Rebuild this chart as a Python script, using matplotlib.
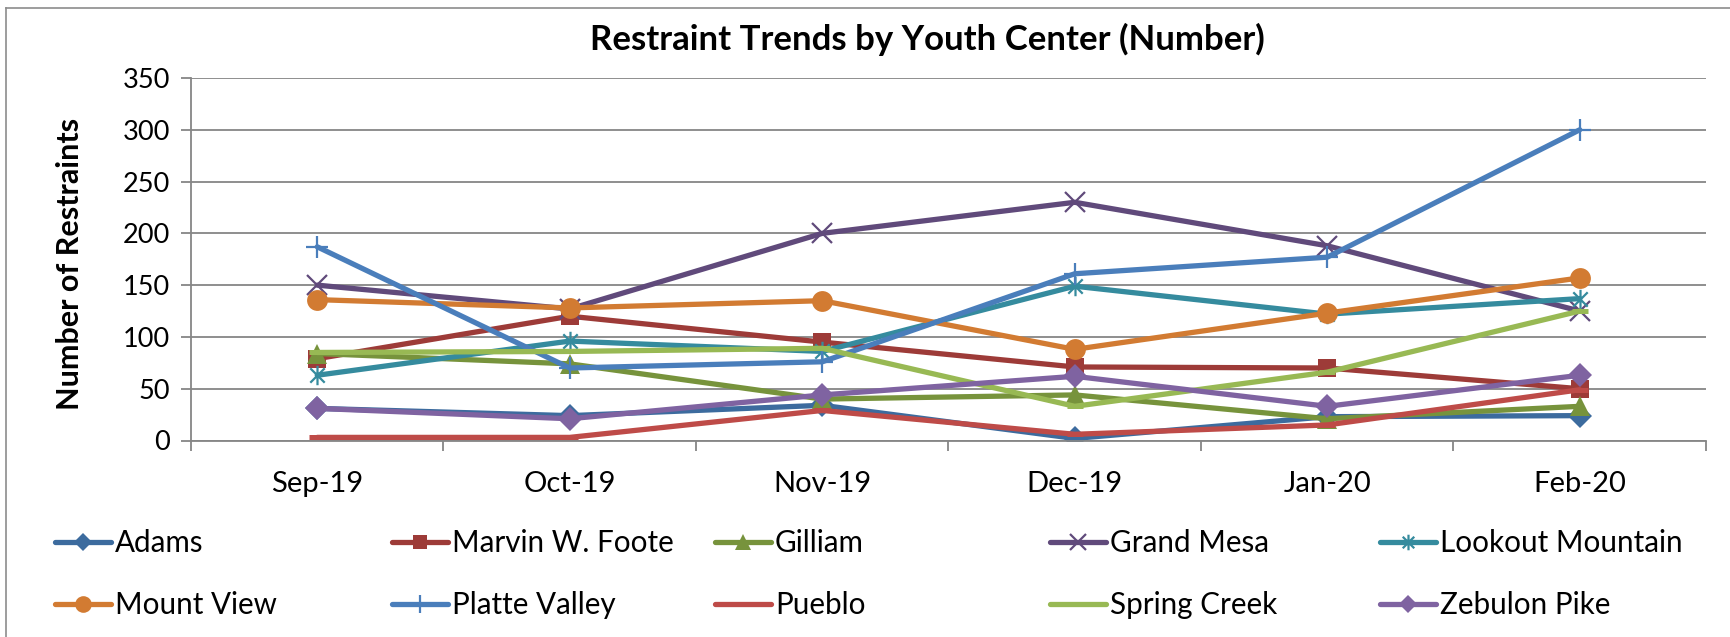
import matplotlib
matplotlib.use("Agg")
import matplotlib.pyplot as plt
from matplotlib.path import Path
from matplotlib.lines import Line2D
import numpy as np

categories = ["Sep-19", "Oct-19", "Nov-19", "Dec-19", "Jan-20", "Feb-20"]

adams = [31, 24, 34, 2, 23, 24]
marvin_w_foote = [79, 120, 95, 71, 70, 50]
gilliam = [84, 74, 40, 44, 21, 33]
grand_mesa = [150, 127, 200, 230, 188, 125]
lookout_mountain = [63, 96, 86, 149, 122, 137]
mount_view = [136, 128, 135, 88, 123, 157]
platte_valley = [187, 70, 76, 161, 177, 300]
pueblo = [3, 3, 29, 6, 15, 49]
spring_creek = [85, 86, 89, 33, 66, 125]
zebulon_pike = [31, 21, 44, 62, 33, 63]

series_names = ["Adams", "Marvin W. Foote", "Gilliam", "Grand Mesa", "Lookout Mountain",
                "Mount View", "Platte Valley", "Pueblo", "Spring Creek", "Zebulon Pike"]
series_values = [adams, marvin_w_foote, gilliam, grand_mesa, lookout_mountain,
                 mount_view, platte_valley, pueblo, spring_creek, zebulon_pike]

y_ticks = [0, 50, 100, 150, 200, 250, 300, 350]

colors = ["#3C6B9E", "#9D3B38", "#77933C", "#604A7B", "#358B9E",
          "#D27B32", "#4A7EBB", "#BE4B48", "#98B954", "#7F63A1"]

star = Path([(-1, -1), (1, 1), (-1, 1), (1, -1), (0, -1.35), (0, 1.35)],
            [Path.MOVETO, Path.LINETO, Path.MOVETO, Path.LINETO, Path.MOVETO, Path.LINETO])

styles = [
    dict(marker="D", ms=12, mew=0),
    dict(marker="s", ms=13, mew=0),
    dict(marker="^", ms=14, mew=0),
    dict(marker="x", ms=14, mew=1.6),
    dict(marker=star, ms=14, mew=1.6),
    dict(marker="o", ms=15, mew=0),
    dict(marker="+", ms=16, mew=1.6),
    dict(marker="_", ms=12, mew=3.6),
    dict(marker="_", ms=12, mew=3.6),
    dict(marker="D", ms=12, mew=0),
]

FONT = "Lato"
plt.rcParams["font.family"] = [FONT, "DejaVu Sans"]

W, H = 1731, 637
fig = plt.figure(figsize=(W / 100, H / 100), dpi=100)
ax = fig.add_axes([191 / W, 1 - 440.5 / H, (1706 - 191) / W, (440.5 - 78) / H])

x = np.arange(len(categories))
handles = []
for name, vals, c, st in zip(series_names, series_values, colors, styles):
    ln, = ax.plot(x, vals, color=c, lw=3.8, solid_capstyle="round", solid_joinstyle="round",
                  markerfacecolor=c, markeredgecolor=c, label=name, **st)
    handles.append(ln)

grid_c = "#868686"
ax.set_xlim(-0.5, len(categories) - 0.5)
ax.set_ylim(0, 350)
ax.set_yticks(y_ticks)
ax.set_yticklabels([str(v) for v in y_ticks], fontsize=19.5)
ax.set_xticks(x)
ax.set_xticklabels(categories, fontsize=21)
ax.set_xticks(np.arange(-0.5, len(categories)), minor=True)
ax.tick_params(axis="x", which="major", length=0, pad=22)
ax.tick_params(axis="x", which="minor", length=7, width=1.3, color=grid_c, direction="out")
ax.tick_params(axis="y", length=7, width=1.3, color=grid_c, pad=8)
ax.yaxis.grid(True, color=grid_c, lw=1.3)
ax.set_axisbelow(True)
for s in ["top", "right"]:
    ax.spines[s].set_visible(False)
for s in ["left", "bottom"]:
    ax.spines[s].set_color(grid_c)
    ax.spines[s].set_linewidth(1.3)

fig.text(927 / W, 1 - 39 / H, "Restraint Trends by Youth Center (Number)",
         ha="center", va="center", fontsize=25, fontweight="bold")
fig.text(70 / W, 1 - 264 / H, "Number of Restraints", rotation=90,
         ha="center", va="center", fontsize=22, fontweight="bold")

# legend: row-major placement, one entry per legend
col_x = [55, 392, 715, 1050, 1380]
row_y = [543, 605]
for i, h in enumerate(handles):
    r, cidx = divmod(i, 5)
    leg = fig.legend(handles=[h], labels=[series_names[i]], loc="center left",
                     bbox_to_anchor=(col_x[cidx] / W, 1 - row_y[r] / H),
                     frameon=False, fontsize=21.3, handlelength=1.9, handletextpad=0.12,
                     borderpad=0, borderaxespad=0, markerscale=0.8)

# chart border
fig.add_artist(Line2D([6 / W, 6 / W], [0, 1 - 8 / H], transform=fig.transFigure, color="#8C8C8C", lw=1.2))
fig.add_artist(Line2D([6 / W, 1], [1 - 8 / H, 1 - 8 / H], transform=fig.transFigure, color="#8C8C8C", lw=1.2))

fig.savefig("out.png", dpi=100, facecolor="white")
